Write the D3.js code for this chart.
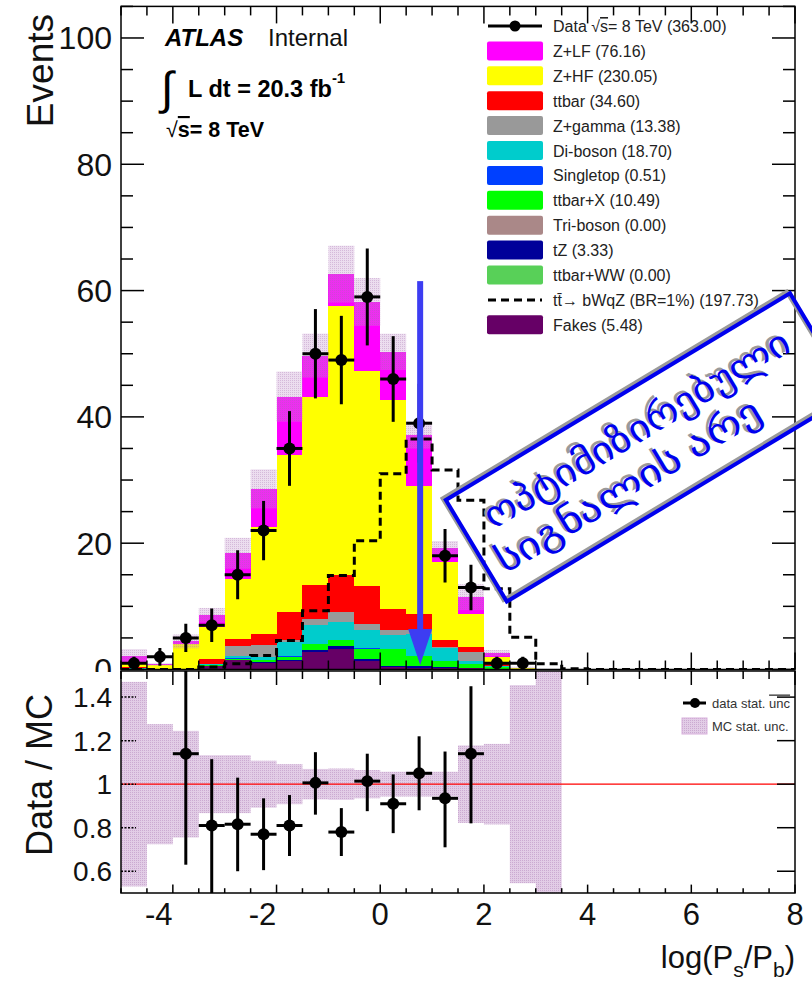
<!DOCTYPE html>
<html>
<head>
<meta charset="utf-8">
<script src="https://cdn.jsdelivr.net/npm/d3@7"></script>
<style>
  body { margin: 0; background: #fff; }
  text { font-family: "Liberation Sans", Arial, Helvetica, sans-serif; }
</style>
</head>
<body>
<div id="wrapper"></div>
<script>
// ---- data (bins of 0.5 in log(Ps/Pb), from -5 to 8) ----
const binLow = [-5, -4.5, -4, -3.5, -3, -2.5, -2, -1.5, -1, -0.5, 0, 0.5, 1, 1.5, 2, 2.5, 3, 3.5, 4, 4.5, 5, 5.5, 6, 6.5, 7, 7.5];
const binWidth = 0.5;

const dataCounts = [1, 2, 5, 7, 15, 22, 35, 50, 49, 59, 46, 39, 18, 13, 1, 1, 0, 0, 0, 0, 0, 0, 0, 0, 0, 0];

const fakesYield     = [0.1, 0, 0, 0.6, 1.5, 1.1, 1.4, 2.8, 3.3, 1.4, 0.4, 0.2, 0.3, 0.2, 0.1, 0, 0, 0, 0, 0, 0, 0, 0, 0, 0, 0];
const ttbarWWYield   = [0, 0, 0, 0, 0, 0, 0, 0, 0, 0, 0, 0, 0, 0, 0, 0, 0, 0, 0, 0, 0, 0, 0, 0, 0, 0];
const tZYield        = [0, 0, 0, 0, 0.05, 0.1, 0.1, 0.3, 0.4, 0.3, 0.2, 0.3, 0.1, 0.1, 0.05, 0, 0, 0, 0, 0, 0, 0, 0, 0, 0, 0];
const tribosonYield  = [0, 0, 0, 0, 0, 0, 0, 0, 0, 0, 0, 0, 0, 0, 0, 0, 0, 0, 0, 0, 0, 0, 0, 0, 0, 0];
const ttbarXYield    = [0.05, 0, 0, 0.1, 0.15, 0.3, 0.5, 0.95, 0.9, 1.6, 2.6, 1.6, 0.9, 0.6, 0.3, 0.05, 0, 0, 0, 0, 0, 0, 0, 0, 0, 0];
const singletopYield = [0, 0, 0, 0, 0.05, 0.05, 0.1, 0.05, 0.05, 0.05, 0.1, 0.1, 0.05, 0, 0, 0, 0, 0, 0, 0, 0, 0, 0, 0, 0, 0];
const dibosonYield   = [0.05, 0, 0.05, 0.1, 0.35, 0.5, 2.3, 2.9, 2.8, 2.85, 2.1, 3.45, 2.0, 0.5, 0.1, 0, 0, 0, 0, 0, 0, 0, 0, 0, 0, 0];
const zgammaYield    = [0, 0, 0, 0.1, 1.7, 1.8, 0.2, 1.05, 1.7, 1.05, 0.8, 0.65, 0.15, 1.4, 0.05, 0, 0, 0, 0, 0, 0, 0, 0, 0, 0, 0];
const ttbarYield     = [0.2, 0.15, 0.05, 0.8, 1.0, 1.8, 4.5, 5.3, 5.8, 6.05, 3.4, 2.5, 1.1, 0.8, 0.3, 0, 0, 0, 0, 0, 0, 0, 0, 0, 0, 0];
const zhfYield       = [0.6, 0.5, 3.9, 5.1, 9.6, 16.9, 24.8, 29.85, 42.65, 34.0, 33.1, 20.3, 12.4, 5.2, 1.1, 0.15, 0.05, 0, 0, 0, 0, 0, 0, 0, 0, 0];
const zlfYield       = [1.2, 0.15, 0.45, 1.8, 4.0, 6.05, 9.3, 6.5, 5.0, 10.9, 7.6, 8.0, 2.25, 2.65, 0.6, 0.1, 0, 0, 0, 0, 0, 0, 0, 0, 0, 0];

const signalYield    = [0, 0, 0, 0.4, 0.9, 2.2, 4.6, 9.3, 14.9, 20.4, 31.0, 36.5, 31.6, 26.8, 12.8, 5.1, 0.9, 0.1, 0, 0, 0, 0, 0, 0, 0, 0];

// relative MC stat. uncertainty per bin (band half-width in the ratio panel)
const mcRelUnc = [0.47, 0.276, 0.245, 0.133, 0.133, 0.108, 0.092, 0.07, 0.072, 0.065, 0.057, 0.057, 0.057, 0.178, 0.185, 0.455, 1.0, 0, 0, 0, 0, 0, 0, 0, 0, 0];

// ratio panel points (null = off the panel)
const ratioValue = [null, null, 1.14, 0.81, 0.816, 0.77, 0.81, 1.006, 0.78, 1.014, 0.91, 1.05, 0.935, 1.14, null, null, null, null, null, null, null, null, null, null, null, null];
const ratioHigh  = [null, null, 1.65, 1.115, 1.03, 0.935, 0.95, 1.147, 0.89, 1.14, 1.045, 1.22, 1.15, 1.45, null, null, null, null, null, null, null, null, null, null, null, null];
const ratioLow   = [null, null, 0.63, 0.45, 0.6, 0.605, 0.67, 0.86, 0.67, 0.876, 0.775, 0.88, 0.71, 0.82, null, null, null, null, null, null, null, null, null, null, null, null];

const yTicksTop = [0, 20, 40, 60, 80, 100];
const yTicksRatio = [0.6, 0.8, 1, 1.2, 1.4];
const xTicks = [-4, -2, 0, 2, 4, 6, 8];

const legendEntries = [
  { label: "Z+LF (76.16)", key: "zlf" },
  { label: "Z+HF (230.05)", key: "zhf" },
  { label: "ttbar (34.60)", key: "ttbar" },
  { label: "Z+gamma (13.38)", key: "zgamma" },
  { label: "Di-boson (18.70)", key: "diboson" },
  { label: "Singletop (0.51)", key: "singletop" },
  { label: "ttbar+X (10.49)", key: "ttbarX" },
  { label: "Tri-boson (0.00)", key: "triboson" },
  { label: "tZ (3.33)", key: "tZ" },
  { label: "ttbar+WW (0.00)", key: "ttbarWW" },
  { label: "SIGNAL", key: "signal" },
  { label: "Fakes (5.48)", key: "fakes" },
];

// arrow marking the cut, in data units
const cutArrow = { x: 0.77, top: 61.5, tip: 0.7 };

async function drawChart() {

  // stacking order, bottom first
  const stackKeys = ["fakes", "ttbarWW", "tZ", "triboson", "ttbarX", "singletop", "diboson", "zgamma", "ttbar", "zhf", "zlf"];
  const yields = {
    fakes: fakesYield, ttbarWW: ttbarWWYield, tZ: tZYield, triboson: tribosonYield,
    ttbarX: ttbarXYield, singletop: singletopYield, diboson: dibosonYield,
    zgamma: zgammaYield, ttbar: ttbarYield, zhf: zhfYield, zlf: zlfYield,
  };
  const colors = {
    zlf: "#ff00ff", zhf: "#ffff00", ttbar: "#ff0000", zgamma: "#999999",
    diboson: "#00cccc", singletop: "#0040ff", ttbarX: "#00ff00", triboson: "#aa8888",
    tZ: "#000099", ttbarWW: "#58d058", fakes: "#660066",
  };

  const table = binLow.map((lo, i) => {
    const row = { lo: lo, i: i };
    stackKeys.forEach(k => row[k] = yields[k][i]);
    return row;
  });

  // dimensions
  const width = 812, height = 987;
  const frame = { left: 121, right: 795, top: 6.4, bottom: 669.5 };
  const ratioFrame = { top: 671, bottom: 893 };

  const wrapper = d3.select("#wrapper").append("svg")
    .attr("width", width)
    .attr("height", height);

  const defs = wrapper.append("defs");
  // dotted MC stat. fill: lighter over the stack, a bit denser in the ratio pad
  const makePattern = (id, base, dot) => {
    const p = defs.append("pattern")
      .attr("id", id)
      .attr("patternUnits", "userSpaceOnUse")
      .attr("width", 2).attr("height", 2);
    p.append("rect").attr("width", 2).attr("height", 2).attr("fill", base);
    p.append("rect").attr("width", 1).attr("height", 1).attr("fill", dot);
  };
  makePattern("mcstatTop", "rgba(195,150,205,0.32)", "rgba(160,100,170,0.30)");
  makePattern("mcstat", "rgba(190,145,200,0.45)", "rgba(160,105,170,0.35)");

  defs.append("clipPath").attr("id", "clipTop").append("rect")
    .attr("x", frame.left).attr("y", frame.top)
    .attr("width", frame.right - frame.left).attr("height", frame.bottom - frame.top);
  defs.append("clipPath").attr("id", "clipRatio").append("rect")
    .attr("x", frame.left).attr("y", ratioFrame.top)
    .attr("width", frame.right - frame.left).attr("height", ratioFrame.bottom - ratioFrame.top);
  defs.append("clipPath").attr("id", "clipPad").append("rect")
    .attr("x", 0).attr("y", 0).attr("width", width).attr("height", 672);

  // scales
  const xScale = d3.scaleLinear().domain([-5, 8]).range([frame.left, frame.right]);
  const yScale = d3.scaleLinear().domain([0, 105]).range([frame.bottom, frame.top]);
  const rScale = d3.scaleLinear().domain([0.5, 1.52]).range([ratioFrame.bottom, ratioFrame.top]);
  const binPx = xScale(binWidth) - xScale(0);

  // ================= upper pad =================
  const top = wrapper.append("g");
  const plot = top.append("g").attr("clip-path", "url(#clipTop)");

  const series = d3.stack().keys(stackKeys)(table);
  series.forEach(s => {
    plot.append("g").selectAll("rect")
      .data(s.filter(d => d[1] - d[0] > 0))
      .join("rect")
      .attr("x", d => xScale(d.data.lo))
      .attr("width", binPx)
      .attr("y", d => yScale(d[1]))
      .attr("height", d => yScale(d[0]) - yScale(d[1]))
      .attr("fill", colors[s.key])
      .attr("shape-rendering", "crispEdges");
  });

  const mcTotal = table.map((d, i) => series[series.length - 1][i][1]);

  // MC stat band
  plot.append("g").selectAll("rect")
    .data(binLow.map((lo, i) => ({ lo, tot: mcTotal[i], rel: mcRelUnc[i] })).filter(d => d.tot > 0))
    .join("rect")
    .attr("x", d => xScale(d.lo))
    .attr("width", binPx)
    .attr("y", d => yScale(d.tot * (1 + d.rel)))
    .attr("height", d => yScale(d.tot * (1 - d.rel)) - yScale(d.tot * (1 + d.rel)))
    .attr("fill", "url(#mcstatTop)");

  // signal dashed step line
  const stepPoints = [];
  binLow.forEach((lo, i) => {
    stepPoints.push([lo, signalYield[i]]);
    stepPoints.push([lo + binWidth, signalYield[i]]);
  });
  plot.append("path")
    .datum(stepPoints)
    .attr("d", d3.line().x(d => xScale(d[0])).y(d => yScale(d[1])))
    .attr("fill", "none")
    .attr("stroke", "#000")
    .attr("stroke-width", 3)
    .attr("stroke-dasharray", "8,5");

  // data points
  const dataPts = binLow.map((lo, i) => ({ c: lo + binWidth / 2, n: dataCounts[i] })).filter(d => d.n > 0);
  const dataG = plot.append("g");
  dataG.append("g").selectAll("line").data(dataPts).join("line")
    .attr("x1", d => xScale(d.c)).attr("x2", d => xScale(d.c))
    .attr("y1", d => yScale(d.n + Math.sqrt(d.n))).attr("y2", d => yScale(Math.max(0, d.n - Math.sqrt(d.n))))
    .attr("stroke", "#000").attr("stroke-width", 3);
  dataG.append("g").selectAll("line").data(dataPts).join("line")
    .attr("x1", d => xScale(d.c - binWidth / 2)).attr("x2", d => xScale(d.c + binWidth / 2))
    .attr("y1", d => yScale(d.n)).attr("y2", d => yScale(d.n))
    .attr("stroke", "#000").attr("stroke-width", 3);
  dataG.append("g").selectAll("circle").data(dataPts).join("circle")
    .attr("cx", d => xScale(d.c)).attr("cy", d => yScale(d.n)).attr("r", 6)
    .attr("fill", "#000");

  // frame and ticks
  top.append("rect")
    .attr("x", frame.left).attr("y", frame.top)
    .attr("width", frame.right - frame.left).attr("height", frame.bottom - frame.top)
    .attr("fill", "none").attr("stroke", "#000").attr("stroke-width", 1.5);

  const ticksG = top.append("g").attr("stroke", "#000").attr("stroke-width", 1.5);
  d3.range(0, 106, 5).forEach(v => {
    const len = v % 20 === 0 ? 23 : 12;
    ticksG.append("line").attr("x1", frame.left).attr("x2", frame.left + len)
      .attr("y1", yScale(v)).attr("y2", yScale(v));
    ticksG.append("line").attr("x1", frame.right).attr("x2", frame.right - len)
      .attr("y1", yScale(v)).attr("y2", yScale(v));
  });
  d3.range(-5, 8.01, 0.5).forEach(v => {
    const len = v % 2 === 0 ? 17 : 9;
    ticksG.append("line").attr("x1", xScale(v)).attr("x2", xScale(v))
      .attr("y1", frame.top).attr("y2", frame.top + len);
    ticksG.append("line").attr("x1", xScale(v)).attr("x2", xScale(v))
      .attr("y1", frame.bottom).attr("y2", frame.bottom - len);
  });

  // y labels of the upper pad, cut at the pad edge like the original
  top.append("g").attr("clip-path", "url(#clipPad)")
    .selectAll("text").data(yTicksTop).join("text")
    .attr("x", 112).attr("y", d => yScale(d) + 11.5)
    .attr("text-anchor", "end")
    .attr("font-size", 32)
    .attr("fill", "#111")
    .text(d => d);

  top.append("text")
    .attr("transform", "translate(53,14) rotate(-90)")
    .attr("text-anchor", "end")
    .attr("font-size", 37)
    .attr("fill", "#111")
    .text("Events");

  // ATLAS label
  top.append("text").attr("x", 165).attr("y", 46)
    .attr("font-size", 24).attr("font-weight", "bold").attr("font-style", "italic")
    .text("ATLAS");
  top.append("text").attr("x", 268).attr("y", 46)
    .attr("font-size", 24).attr("fill", "#111")
    .text("Internal");
  top.append("text").attr("x", 161).attr("y", 104)
    .attr("font-size", 46).attr("font-family", "DejaVu Sans")
    .text("\u222B");
  const lumi = top.append("text").attr("x", 188).attr("y", 97)
    .attr("font-size", 23.5).attr("font-weight", "bold");
  lumi.append("tspan").text("L dt = 20.3 fb");
  lumi.append("tspan").attr("dy", -14).attr("font-size", 15).text("-1");
  const sq = top.append("text").attr("x", 166).attr("y", 137)
    .attr("font-size", 21.5).attr("font-weight", "bold");
  sq.append("tspan").attr("font-weight", "normal").text("\u221A");
  sq.append("tspan").style("text-decoration", "overline").text("s");
  sq.append("tspan").text("= 8 TeV");

  // legend
  const legG = top.append("g");
  const rowY = i => 26 + i * 24.9;
  const dataRow = legG.append("g");
  dataRow.append("line").attr("x1", 488).attr("x2", 542).attr("y1", rowY(0)).attr("y2", rowY(0))
    .attr("stroke", "#000").attr("stroke-width", 3);
  dataRow.append("circle").attr("cx", 515).attr("cy", rowY(0)).attr("r", 5.5);
  const dataLab = dataRow.append("text").attr("x", 553).attr("y", rowY(0) + 6)
    .attr("font-size", 16).attr("fill", "#222");
  dataLab.append("tspan").text("Data  \u221A");
  dataLab.append("tspan").style("text-decoration", "overline").text("s");
  dataLab.append("tspan").text("= 8 TeV (363.00)");

  legendEntries.forEach((e, j) => {
    const y = rowY(j + 1);
    if (e.key === "signal") {
      legG.append("line").attr("x1", 488).attr("x2", 542).attr("y1", y).attr("y2", y)
        .attr("stroke", "#000").attr("stroke-width", 3).attr("stroke-dasharray", "8,5");
      legG.append("text").attr("x", 553).attr("y", y + 6)
        .attr("font-size", 16).attr("fill", "#222")
        .text("tt\u0304\u2192 bWqZ (BR=1%) (197.73)");
    } else {
      legG.append("rect").attr("x", 487).attr("y", y - 9.5).attr("width", 56).attr("height", 19)
        .attr("rx", 2).attr("fill", colors[e.key]);
      legG.append("text").attr("x", 553).attr("y", y + 6)
        .attr("font-size", 16).attr("fill", "#222")
        .text(e.label);
    }
  });

  // ================= lower pad =================
  const low = wrapper.append("g");
  low.append("rect").attr("x", 0).attr("y", 672).attr("width", width).attr("height", height - 672)
    .attr("fill", "#fff");
  const rplot = low.append("g").attr("clip-path", "url(#clipRatio)");

  rplot.append("g").selectAll("rect")
    .data(binLow.map((lo, i) => ({ lo, rel: mcRelUnc[i] })).filter(d => d.rel > 0))
    .join("rect")
    .attr("x", d => xScale(d.lo))
    .attr("width", binPx)
    .attr("y", d => rScale(1 + d.rel))
    .attr("height", d => rScale(1 - d.rel) - rScale(1 + d.rel))
    .attr("fill", "url(#mcstat)");

  rplot.append("line")
    .attr("x1", xScale(-5)).attr("x2", xScale(8))
    .attr("y1", rScale(1)).attr("y2", rScale(1))
    .attr("stroke", "#ff0000").attr("stroke-width", 1.2);

  const rPts = binLow.map((lo, i) => ({ c: lo + binWidth / 2, v: ratioValue[i], hi: ratioHigh[i], lo: ratioLow[i] }))
    .filter(d => d.v !== null);
  rplot.append("g").selectAll("line").data(rPts).join("line")
    .attr("x1", d => xScale(d.c)).attr("x2", d => xScale(d.c))
    .attr("y1", d => rScale(d.hi)).attr("y2", d => rScale(d.lo))
    .attr("stroke", "#000").attr("stroke-width", 3);
  rplot.append("g").selectAll("line").data(rPts).join("line")
    .attr("x1", d => xScale(d.c - binWidth / 2)).attr("x2", d => xScale(d.c + binWidth / 2))
    .attr("y1", d => rScale(d.v)).attr("y2", d => rScale(d.v))
    .attr("stroke", "#000").attr("stroke-width", 3);
  rplot.append("g").selectAll("circle").data(rPts).join("circle")
    .attr("cx", d => xScale(d.c)).attr("cy", d => rScale(d.v)).attr("r", 6);

  low.append("rect")
    .attr("x", frame.left).attr("y", ratioFrame.top)
    .attr("width", frame.right - frame.left).attr("height", ratioFrame.bottom - ratioFrame.top)
    .attr("fill", "none").attr("stroke", "#000").attr("stroke-width", 1.5);

  const rticks = low.append("g").attr("stroke", "#000").attr("stroke-width", 1.5);
  d3.range(-5, 8.01, 0.5).forEach(v => {
    const len = v % 2 === 0 ? 14 : 8;
    rticks.append("line").attr("x1", xScale(v)).attr("x2", xScale(v))
      .attr("y1", ratioFrame.top).attr("y2", ratioFrame.top + len);
    rticks.append("line").attr("x1", xScale(v)).attr("x2", xScale(v))
      .attr("y1", ratioFrame.bottom).attr("y2", ratioFrame.bottom - len * 0.6);
  });
  yTicksRatio.forEach(v => {
    rticks.append("line").attr("x1", frame.left).attr("x2", frame.left + 15)
      .attr("y1", rScale(v)).attr("y2", rScale(v)).attr("stroke-dasharray", "2,1.5");
    rticks.append("line").attr("x1", frame.right).attr("x2", frame.right - 18)
      .attr("y1", rScale(v)).attr("y2", rScale(v));
  });

  low.append("g").selectAll("text").data(yTicksRatio).join("text")
    .attr("x", 112).attr("y", d => rScale(d) + 10)
    .attr("text-anchor", "end")
    .attr("font-size", 28)
    .attr("fill", "#111")
    .text(d => d);

  low.append("g").selectAll("text").data(xTicks).join("text")
    .attr("x", d => xScale(d) - (d < 0 ? 14 : 0)).attr("y", 925)
    .attr("text-anchor", "middle")
    .attr("font-size", 31)
    .attr("fill", "#111")
    .text(d => d);

  low.append("text")
    .attr("transform", "translate(52,775) rotate(-90)")
    .attr("text-anchor", "middle")
    .attr("font-size", 36)
    .attr("fill", "#111")
    .text("Data / MC");

  const xl = low.append("text").attr("x", 795).attr("y", 968)
    .attr("text-anchor", "end").attr("font-size", 31).attr("fill", "#111");
  xl.append("tspan").text("log(P");
  xl.append("tspan").attr("dy", 9).attr("font-size", 21).text("s");
  xl.append("tspan").attr("dy", -9).text("/P");
  xl.append("tspan").attr("dy", 9).attr("font-size", 21).text("b");
  xl.append("tspan").attr("dy", -9).text(")");

  // ratio legend
  low.append("line").attr("x1", 683).attr("x2", 706).attr("y1", 703).attr("y2", 703)
    .attr("stroke", "#000").attr("stroke-width", 3);
  low.append("circle").attr("cx", 695).attr("cy", 703).attr("r", 5);
  const dl = low.append("text").attr("x", 712).attr("y", 707.5).attr("font-size", 13).attr("fill", "#333");
  dl.append("tspan").text("data stat. ");
  dl.append("tspan").style("text-decoration", "overline").text("unc");
  low.append("rect").attr("x", 682).attr("y", 718).attr("width", 25).attr("height", 16)
    .attr("fill", "url(#mcstat)").attr("stroke", "#d8b0dc").attr("stroke-width", 1);
  low.append("text").attr("x", 712).attr("y", 731).attr("font-size", 13).attr("fill", "#333")
    .text("MC stat. unc.");

  // ================= annotations =================
  const arrowG = wrapper.append("g").attr("fill", "#3d3df2").attr("stroke", "none");
  const ax = xScale(cutArrow.x);
  const tipY = yScale(cutArrow.tip);
  arrowG.append("rect").attr("x", ax - 3).attr("y", yScale(cutArrow.top))
    .attr("width", 6).attr("height", tipY - 36 - yScale(cutArrow.top));
  arrowG.append("path")
    .attr("d", `M${ax - 12},${tipY - 36} L${ax + 12},${tipY - 36} L${ax},${tipY} Z`);

  const stamp = wrapper.append("g").attr("transform", "translate(648.4,447.4) rotate(-31)");
  const drawStamp = (g, color) => {
    g.append("rect").attr("x", -200.75).attr("y", -59.2).attr("width", 401.5).attr("height", 118.4)
      .attr("fill", "none").attr("stroke", color).attr("stroke-width", 4);
    g.append("text").attr("x", -1).attr("y", -9)
      .attr("text-anchor", "middle").attr("font-family", "DejaVu Sans").attr("font-size", 37)
      .attr("textLength", 350).attr("lengthAdjust", "spacingAndGlyphs")
      .attr("fill", color).text("ოპტიმიზირებული");
    g.append("text").attr("x", -37).attr("y", 35)
      .attr("text-anchor", "middle").attr("font-family", "DejaVu Sans").attr("font-size", 37)
      .attr("textLength", 302).attr("lengthAdjust", "spacingAndGlyphs")
      .attr("fill", color).text("სიგნალის არე");
  };
  drawStamp(stamp.append("g").attr("transform", "translate(-2,-3)"), "#9a9a9a");
  drawStamp(stamp.append("g"), "#0000ee");
}

drawChart();
</script>
</body>
</html>
